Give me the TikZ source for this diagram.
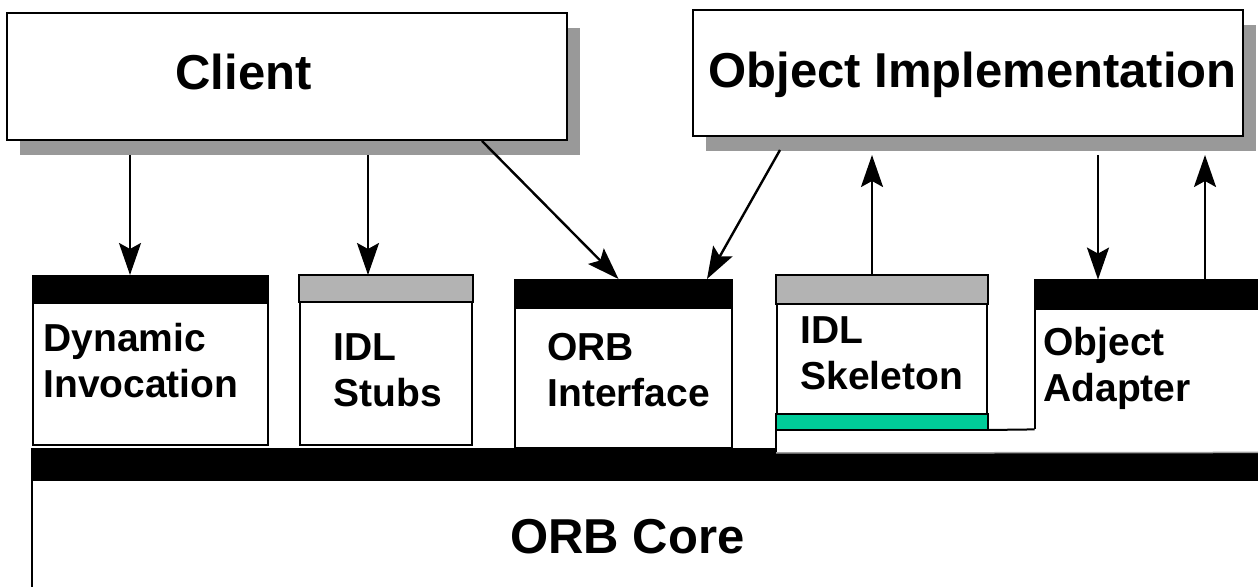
\documentclass[tikz,border=0pt]{standalone}
\usepackage{fontspec}
\setmainfont{Liberation Sans}
\usetikzlibrary{arrows.meta,shadows}

\definecolor{shadowgrey}{HTML}{999999}
\definecolor{headgrey}{HTML}{B3B3B3}
\definecolor{skelgreen}{HTML}{00CC99}
\definecolor{edgegrey}{HTML}{A0A0A0}

\begin{document}
\begin{tikzpicture}[x=0.5pt,y=-0.5pt]

    \tikzset{
      topbox/.style={
        draw,
        line width=1pt,
        fill=white,
        drop shadow={fill=shadowgrey, opacity=1, shadow xshift=6.5pt, shadow yshift=-7.5pt},
      },
      compbox/.style={
        draw,
        line width=1pt,
        fill=white,
        inner sep=0pt,
      },
      lbl/.style={
        anchor=base west,
        inner sep=0pt,
        align=left,
        font=\fontsize{19.5}{23}\selectfont\bfseries,
      },
      biglbl/.style={
        anchor=base west,
        inner sep=0pt,
        font=\fontsize{24.5}{29}\selectfont\bfseries,
      },
      arr/.style={
        line width=1.2pt,
        -{Stealth[length=16pt,width=11pt,inset=3pt]},
      },
    }
    \useasboundingbox (0,0) rectangle (1258,587);
    \clip (0,0) rectangle (1258,587);

    % ORB core with its black top band
    \node[compbox, minimum width=634pt, minimum height=95.5pt] (core) at (666,544.5) {};
    \fill (core.north west) rectangle ([yshift=-16.5pt]core.north east);
    \node[biglbl] (coretxt) at (510,553) {ORB Core};

    % the two top boxes
    \node[topbox, minimum width=280pt, minimum height=63.5pt] (client) at (287,76.5) {};
    \node[biglbl] (clienttxt) at (175,90) {Client};
    \node[topbox, minimum width=275pt, minimum height=63pt] (objimpl) at (968,73) {};
    \node[biglbl] (objimpltxt) at (708,88) {Object Implementation};

    % interface boxes on top of the core (labels sit on their second baseline)
    \node[compbox, minimum width=117.5pt, minimum height=84.5pt] (dyn) at (150.5,360.5) {};
    \fill (dyn.north west) rectangle ([yshift=-14.5pt]dyn.north east);
    \node[lbl] (dyntxt) at (43,398) {Dynamic\\Invocation};

    \node[compbox, minimum width=86pt, minimum height=84.5pt] (stub) at (386,360.5) {};
    \filldraw[fill=headgrey, line width=1pt] (stub.north west) rectangle ([yshift=-13.5pt]stub.north east);
    \node[lbl] (stubtxt) at (333,407) {IDL\\Stubs};

    \node[compbox, minimum width=108.5pt, minimum height=84pt] (orbif) at (623.5,364) {};
    \fill (orbif.north west) rectangle ([yshift=-15pt]orbif.north east);
    \node[lbl] (orbiftxt) at (547,407) {ORB\\Interface};

    \node[compbox, minimum width=105pt, minimum height=76.5pt] (skel) at (882,352.5) {};
    \filldraw[fill=headgrey, line width=1pt] (skel.north west) rectangle ([yshift=-14.5pt]skel.north east);
    \filldraw[fill=skelgreen, line width=1pt] (skel.south west) rectangle ([yshift=8pt]skel.south east);
    \node[lbl] (skeltxt) at (800,390) {IDL\\Skeleton};

    \node[fill=white, inner sep=0pt, minimum width=132.5pt, minimum height=74.5pt] (adapt) at (1167.5,354.5) {};
    \fill (adapt.north west) rectangle ([yshift=-15pt]adapt.north east);
    \draw[line width=1pt] (adapt.south west) -- (adapt.north west) -- (adapt.north east);
    \node[lbl] (adapttxt) at (1043,401) {Object\\Adapter};

    % white strip joining skeleton and adapter
    \fill[white] ([yshift=-0.5pt]skel.south west) rectangle ([yshift=-11.5pt]adapt.south east);
    \draw[line width=1pt] (skel.south west) -- ([yshift=-11.5pt]skel.south west);
    \draw[edgegrey, line width=0.75pt] ([yshift=-11.5pt]skel.south west) -- ([yshift=-11.5pt]adapt.south east);
    \draw[line width=1pt] (skel.south east) -- (adapt.south west);

    % calls between the layers
    \coordinate (c1) at (130,155);
    \coordinate (c2) at (368,155);
    \coordinate (c3) at (482,141);
    \coordinate (c4) at (780,150);
    \coordinate (c5) at (872,155);
    \coordinate (c6) at (1098,155);
    \coordinate (c7) at (1205,155);
    \draw[arr] (c1) -- (c1 |- dyn.north);
    \draw[arr] (c2) -- (c2 |- stub.north);
    \draw[arr] (c3) -- ([xshift=-2.5pt]orbif.north);
    \draw[arr] (c4) -- ([xshift=-13pt]orbif.north east);
    \draw[arr] (c5 |- skel.north) -- (c5);
    \draw[arr] (c6) -- (c6 |- adapt.north);
    \draw[arr] (c7 |- adapt.north) -- (c7);

\end{tikzpicture}
\end{document}
